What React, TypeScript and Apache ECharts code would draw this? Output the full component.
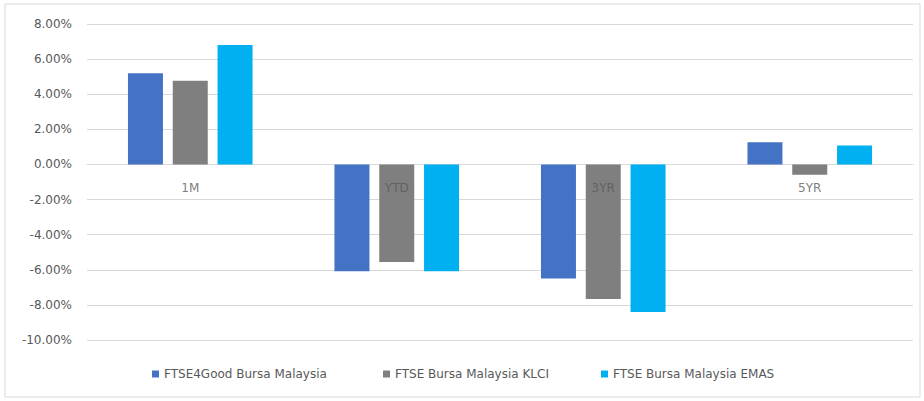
import React, { useEffect, useRef } from "react";
import * as echarts from "echarts";

const categories = ["1M", "YTD", "3YR", "5YR"];
const ftse4Good = [5.19, -6.08, -6.5, 1.27];
const klci = [4.77, -5.55, -7.67, -0.59];
const emas = [6.8, -6.08, -8.41, 1.08];
const seriesNames = ["FTSE4Good Bursa Malaysia", "FTSE Bursa Malaysia KLCI", "FTSE Bursa Malaysia EMAS"];
const colors = ["#4472C4", "#7F7F7F", "#00B0F0"];

export default function App() {
  const ref = useRef<HTMLDivElement>(null);
  useEffect(() => {
    if (!ref.current) return;
    const chart = echarts.init(ref.current, null, { renderer: "svg" });
    const font = "'DejaVu Sans', 'Liberation Sans', sans-serif";
    const mk = (name: string, data: number[], color: string) => ({
      name,
      type: "bar",
      data,
      barWidth: 35,
      barGap: "28%",
      itemStyle: { color },
    });
    const legendAt = (name: string, left: number) => ({
      left,
      bottom: 16,
      itemWidth: 7,
      itemHeight: 7,
      icon: "rect",
      textStyle: { color: "#595959", fontSize: 12, fontFamily: font },
      data: [name],
    });
    chart.setOption({
      animation: false,
      textStyle: { fontFamily: font },
      graphic: [
        {
          type: "rect",
          shape: { x: 5, y: 4, width: 915, height: 393 },
          style: { fill: "none", stroke: "#D9D9D9", lineWidth: 1 },
          silent: true,
        },
      ],
      grid: { left: 87, right: 11, top: 24, bottom: 61, containLabel: false },
      legend: [
        legendAt(seriesNames[0], 147),
        legendAt(seriesNames[1], 378),
        legendAt(seriesNames[2], 596),
      ],
      xAxis: {
        type: "category",
        data: categories,
        axisLine: { show: true, onZero: true, lineStyle: { color: "#D9D9D9" } },
        axisTick: { show: false },
        axisLabel: { show: false },
        splitLine: { show: false },
      },
      yAxis: {
        type: "value",
        min: -10,
        max: 8,
        interval: 2,
        axisLine: { show: false },
        axisTick: { show: false },
        axisLabel: {
          color: "#595959",
          fontSize: 12,
          margin: 15,
          formatter: (v: number) => v.toFixed(2) + "%",
        },
        splitLine: { lineStyle: { color: "#D9D9D9" } },
      },
      series: [
        mk(seriesNames[0], ftse4Good, colors[0]),
        mk(seriesNames[1], klci, colors[1]),
        mk(seriesNames[2], emas, colors[2]),
        {
          name: "categoryLabels",
          type: "scatter",
          symbolSize: 1,
          itemStyle: { color: "rgba(0,0,0,0)" },
          silent: true,
          z: 5,
          data: categories.map((c) => ({ name: c, value: [c, 0] })),
          label: {
            show: true,
            position: "bottom",
            distance: 17,
            color: "#595959",
            fontSize: 12,
            fontFamily: font,
            formatter: (p: any) => p.name,
          },
        },
      ],
    });
    return () => chart.dispose();
  }, []);
  return (
    <div
      ref={ref}
      style={{ position: "fixed", left: 0, top: 0, width: 924, height: 401, background: "#fff" }}
    />
  );
}
